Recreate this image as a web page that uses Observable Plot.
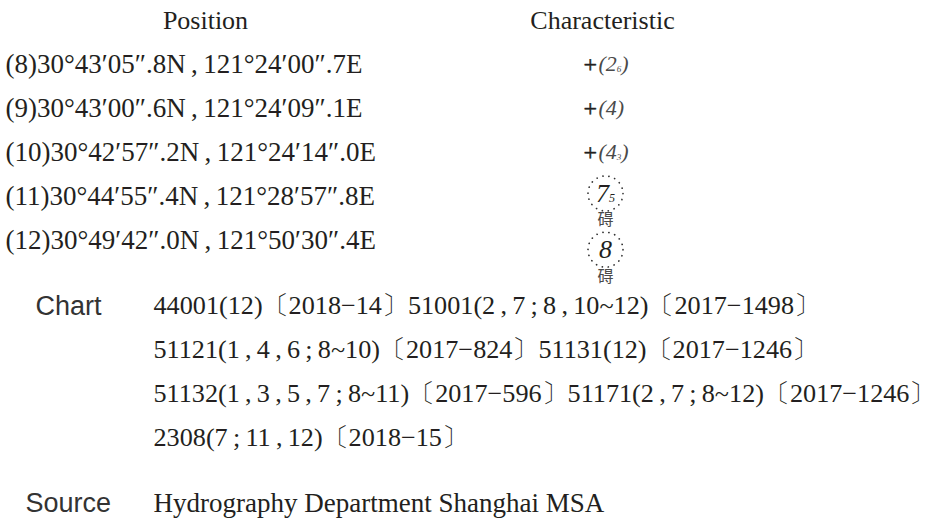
<!DOCTYPE html>
<html>
<head>
<meta charset="utf-8">
<script src="https://cdn.jsdelivr.net/npm/d3@7"></script>
<script src="https://cdn.jsdelivr.net/npm/@observablehq/plot@0.6"></script>
<style>
  html, body { margin: 0; padding: 0; background: #ffffff; }
  #chart svg { display: block; }
</style>
</head>
<body>
<div id="chart"></div>
<script>
// ---------- data ----------
const headers = ["Position", "Characteristic"];
const positions = [
  "(8)30°43′05″.8N\u2009,\u2009121°24′00″.7E",
  "(9)30°43′00″.6N\u2009,\u2009121°24′09″.1E",
  "(10)30°42′57″.2N\u2009,\u2009121°24′14″.0E",
  "(11)30°44′55″.4N\u2009,\u2009121°28′57″.8E",
  "(12)30°49′42″.0N\u2009,\u2009121°50′30″.4E"
];
const charPrefix = ["+", "+", "+", "", ""];
const charMain = ["2", "4", "4", "7", "8"];
const charSub = ["6", "", "3", "5", ""];
const charCircled = [false, false, false, true, true];
const charNote = ["", "", "", "碍", "碍"];
const chartLabel = "Chart";
const chartLines = [
  "44001(12)〔2018−14〕51001(2\u2009,\u20097\u2009;\u20098\u2009,\u200910~12)〔2017−1498〕",
  "51121(1\u2009,\u20094\u2009,\u20096\u2009;\u20098~10)〔2017−824〕51131(12)〔2017−1246〕",
  "51132(1\u2009,\u20093\u2009,\u20095\u2009,\u20097\u2009;\u20098~11)〔2017−596〕51171(2\u2009,\u20097\u2009;\u20098~12)〔2017−1246〕",
  "2308(7\u2009;\u200911\u2009,\u200912)〔2018−15〕"
];
const sourceLabel = "Source";
const sourceText = "Hydrography Department Shanghai MSA";

// ---------- layout / style ----------
const W = 943, H = 525;
const SERIF = "'Liberation Serif', 'Times New Roman', serif";
const SANS = "'Liberation Sans', Arial, sans-serif";
const CJK = "'Noto Sans CJK SC', sans-serif";
const INK = "#231f20";
const GREY = "#4a4a4a";
const FS = 27, FH = 26, FC = 26.2;
const col = {posLeft: 5, posHead: 205, charHead: 602, charLeft: 583, charCenter: 605, chartLabel: 35, srcLabel: 25, body: 153};
const charLines = [1, 2, 3, 3.94, 5.22];
const noteLines = [0, 0, 0, 4.55, 5.85];

const marks = [];

// headers
marks.push(Plot.text(headers, {
  x: (d, i) => [col.posHead, col.charHead][i], y: () => 0, text: d => d,
  fontSize: FH, fontFamily: SERIF, fill: INK, textAnchor: "middle"
}));

// positions
marks.push(Plot.text(positions, {
  x: () => col.posLeft, y: (d, i) => i + 1, text: d => d,
  fontSize: FS, fontFamily: SERIF, fill: INK, textAnchor: "start"
}));

// characteristics
charMain.forEach((m, i) => {
  const item = [{i}];
  const line = charLines[i];
  if (!charCircled[i]) {
    const fMain = 22, fSub = 9;
    const x0 = col.charLeft + 15;
    const w1 = fMain * (0.333 + 0.5 * m.length);
    const ws = fSub * 0.5 * charSub[i].length;
    marks.push(Plot.text(item, {x: () => col.charLeft, y: () => line, text: () => charPrefix[i],
      fontSize: 24, fontFamily: SERIF, fill: INK, stroke: INK, strokeWidth: 0.5, textAnchor: "start"}));
    marks.push(Plot.text(item, {x: () => x0, y: () => line, text: () => "(" + m,
      fontSize: fMain, fontFamily: SERIF, fontStyle: "italic", fill: GREY, textAnchor: "start"}));
    if (charSub[i]) marks.push(Plot.text(item, {x: () => x0 + w1, y: () => line, text: () => charSub[i],
      fontSize: fSub, fontFamily: SERIF, fontStyle: "italic", fill: GREY, textAnchor: "start", dy: 5}));
    marks.push(Plot.text(item, {x: () => x0 + w1 + ws, y: () => line, text: () => ")",
      fontSize: fMain, fontFamily: SERIF, fontStyle: "italic", fill: GREY, textAnchor: "start"}));
  } else {
    const fMain = 26, fSub = 12;
    const wm = fMain * 0.5 * m.length, ws = fSub * 0.5 * charSub[i].length;
    const xs = col.charCenter - (wm + ws) / 2;
    marks.push(Plot.dot(item, {x: () => col.charCenter, y: () => line, r: 17.5,
      fill: "none", stroke: "#333", strokeWidth: 1.7, strokeDasharray: "0.1,6", strokeLinecap: "round"}));
    marks.push(Plot.text(item, {x: () => xs, y: () => line, text: () => m,
      fontSize: fMain, fontFamily: SERIF, fontStyle: "italic", fill: INK, textAnchor: "start"}));
    if (charSub[i]) marks.push(Plot.text(item, {x: () => xs + wm, y: () => line, text: () => charSub[i],
      fontSize: fSub, fontFamily: SERIF, fontStyle: "italic", fill: INK, textAnchor: "start", dy: 5}));
    marks.push(Plot.text(item, {x: () => col.charCenter, y: () => noteLines[i], text: () => charNote[i],
      fontSize: 16, fontFamily: CJK, fill: GREY, textAnchor: "middle"}));
  }
});

// chart block
marks.push(Plot.text([chartLabel], {x: () => col.chartLabel, y: () => 6.5, text: d => d,
  fontSize: FS, fontFamily: SANS, fill: "#333", textAnchor: "start"}));
marks.push(Plot.text(chartLines, {x: () => col.body, y: (d, i) => 6.5 + i, text: d => d,
  fontSize: FC, fontFamily: SERIF, fill: INK, textAnchor: "start"}));

// source
marks.push(Plot.text([sourceLabel], {x: () => col.srcLabel, y: () => 11, text: d => d,
  fontSize: FS, fontFamily: SANS, fill: "#333", textAnchor: "start"}));
marks.push(Plot.text([sourceText], {x: () => col.body, y: () => 11, text: d => d,
  fontSize: FS, fontFamily: SERIF, fill: INK, textAnchor: "start"}));

const plot = Plot.plot({
  width: W, height: H, margin: 0,
  style: {background: "#ffffff", overflow: "visible"},
  x: {type: "linear", domain: [0, W], range: [0, W], axis: null},
  y: {type: "linear", domain: [0, 11], range: [20, 503], axis: null},
  marks
});
document.getElementById("chart").appendChild(plot);
</script>
</body>
</html>
